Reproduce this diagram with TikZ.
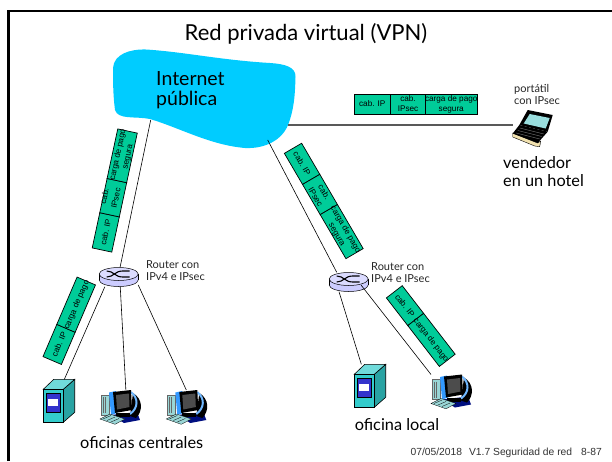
\documentclass[tikz,border=0pt]{standalone}
\usepackage{fontspec}
\setmainfont{Lato}
\newfontfamily\arialf{Liberation Sans}
\definecolor{pkt}{HTML}{00CC99}
\definecolor{cloudc}{HTML}{00CCFF}
\definecolor{srvc}{HTML}{33CCCC}
\definecolor{srvb}{HTML}{3333CC}
\definecolor{rtc}{HTML}{CCCCFF}
\definecolor{navy}{HTML}{000F80}
\definecolor{mblue}{HTML}{3399FF}
\definecolor{ltl}{HTML}{99D6D6}
\definecolor{lcd}{HTML}{99DDDD}
\definecolor{beige}{HTML}{F2E2B0}
\newcommand\oneline[2][-2.9pt]{\makebox[0pt]{\smash{\raisebox{#1}{#2}}}}
\newcommand\twolines[2]{\oneline[2.1pt]{#1}\oneline[-7.9pt]{#2}}
\tikzset{
  seg/.style={draw=black,fill=pkt,line width=.7pt,inner sep=0pt,outer sep=0pt,anchor=west,
    minimum height=20pt,font=\arialf\fontsize{8.2}{10}\selectfont},
  hostbox/.style={inner sep=0pt,outer sep=0pt,minimum width=#1},
  link/.style={draw=black,line width=.6pt},
  uplink/.style={draw=black!65,line width=1.1pt},
  comic/.style={inner sep=0pt,align=left,anchor=west},
  smalllab/.style={comic,font=\fontsize{11}{12}\selectfont,text=black!85},
  biglab/.style={comic,font=\fontsize{16.3}{18}\selectfont},
  routericon/.pic={
    \fill[rtc,draw=black,line width=.5pt] (0,3) ellipse[x radius=19.5,y radius=6.5];
    \fill[rtc] (-19.5,-3) rectangle (19.5,3);
    \draw[black,line width=.5pt] (-19.5,-3) -- (-19.5,3) (19.5,-3) -- (19.5,3);
    \fill[rtc!70!white,draw=black,line width=.5pt] (0,-3) ellipse[x radius=19.5,y radius=6.5];
    \draw[black,line width=1.1pt] (-12,-6) .. controls (-5,-6) and (-4,0) .. (4,0) -- (11,0);
    \draw[black,line width=1.1pt] (-12,0) .. controls (-5,0) and (-4,-6) .. (4,-6) -- (11,-6);
  },
  servericon/.pic={
    \fill[srvc!80!black,draw=black,line width=.6pt] (20,10) -- (31.4,0) -- (31.4,33) -- (20,43) -- cycle;
    \fill[srvc!70!white,draw=black,line width=.6pt] (0,10) -- (10.5,0) -- (31.4,0) -- (20,10) -- cycle;
    \fill[srvc,draw=black,line width=.6pt] (0,10) rectangle (20,43);
    \fill[srvb,draw=black,line width=.4pt] (2.7,14) rectangle (16.7,33);
    \fill[white] (4.7,19.7) rectangle (15,26.7);
  },
  pcicon/.pic={
    \fill[ltl,draw=black!60,line width=.3pt] (1,5) rectangle (9,25);
    \draw[black!60,line width=.3pt] (3,7) -- (3,23) (5,7) -- (5,23);
    \fill[navy] (11,25) -- (37,22) -- (40,30) -- (24,33) -- cycle;
    \fill[black] (33,3) .. controls (43,9) and (43,21) .. (36,28) -- (30,26) -- (33,3);
    \draw[mblue!70!white,line width=2pt] (31,2) .. controls (38.5,8) and (38.5,18) .. (30,24);
    \fill[mblue] (9,2.5) -- (16,1) -- (17,23) -- (11,25) -- cycle;
    \fill[black] (13,2) -- (31,0) -- (32,20) -- (15,23) -- cycle;
    \fill[black!70] (16,5) -- (29,3.5) -- (29.5,17) -- (17,19.5) -- cycle;
    \fill[black] (16,23) rectangle (30,27);
    \fill[ltl,draw=black,line width=.3pt] (0,29) -- (10,24) -- (25,29) -- (15,34.3) -- cycle;
    \draw[black,line width=.3pt] (3,29) -- (11,25.5) (7,30.5) -- (15,27) (11,32) -- (19,28.5);
  },
  laptopicon/.pic={
    \fill[black] (15,0) -- (40,5) -- (35,21.7) -- (6.6,15) -- cycle;
    \fill[lcd] (17,4) -- (37,8) -- (33,18.5) -- (11,13.5) -- cycle;
    \fill[beige,draw=black,line width=.4pt] (0,23) -- (25,33) -- (28,31) -- (27,36.7) -- (22,36) -- (0,27) -- cycle;
    \fill[black] (6.6,15) -- (35,21.7) -- (25,33) -- (0,23.5) -- cycle;
    \draw[black!55,line width=.4pt] (7,18) -- (31,24) (5,20.5) -- (29,26.5) (3.5,23) -- (27,29);
  },
}
\begin{document}
\begin{tikzpicture}[x=1pt,y=-1pt]
\useasboundingbox (0,0) rectangle (612,461);
\fill[white] (0,0) rectangle (612,461);
% frame
\draw[black,line width=2.7pt] (8.7,461) -- (8.7,11) -- (612,11);
% title
\node[font=\fontsize{22}{24}\selectfont] (title) at (306,34) {Red privada virtual (VPN)};
% cloud
\fill[cloudc] (113,68) .. controls (114,54) and (130,49) .. (146,49.5)
  .. controls (185,52) and (220,60) .. (270,63)
  .. controls (285,64) and (296,67) .. (295.5,77)
  .. controls (295,95) and (294,110) .. (288,125)
  .. controls (282,140) and (265,149) .. (245,148)
  .. controls (210,145) and (180,128) .. (150,119)
  .. controls (135,116) and (118,120) .. (115,110)
  .. controls (113,95) and (113,80) .. (113,68) -- cycle;
\coordinate (cloudL) at (150.7,120);
\coordinate (cloudR) at (267.7,140);
\coordinate (cloudE) at (288,125);
\node[comic,font=\fontsize{19.5}{20}\selectfont] (inet) at (156,90) {Internet\\pública};
% routers
\node[hostbox=39pt,minimum height=19.4pt] (rtA) at (118.7,277) {};
\node[hostbox=39pt,minimum height=19.4pt] (rtB) at (348.7,282) {};
\pic at (118.7,277) {routericon};
\pic at (348.7,282) {routericon};
\coordinate (rtBport) at (361,285);
% hosts
\node[hostbox=31.4pt,minimum height=43pt] (srvA) at (59,400.8) {};
\node[hostbox=31.4pt,minimum height=43pt] (srvB) at (370,385.8) {};
\pic at (43.3,379.3) {servericon};
\pic at (354.3,364.3) {servericon};
\node[hostbox=40pt,minimum height=34pt] (pcA) at (120,407) {};
\node[hostbox=40pt,minimum height=34pt] (pcB) at (186.3,407) {};
\node[hostbox=40pt,minimum height=34pt] (pcC) at (451,391.5) {};
\pic at (100,390) {pcicon};
\pic at (166.3,390) {pcicon};
\pic at (431,374.5) {pcicon};
\node[hostbox=40pt,minimum height=37pt] (lap) at (532.7,128.5) {};
% links
\draw[link] (cloudL) -- (rtA.82.4);
\draw[link] (cloudR) -- (rtB.141.7);
\draw[uplink] (cloudE) -- (cloudE -| lap.west);
\pic at (512.7,110) {laptopicon};
\draw[link] (rtA.215.3) -- (srvA.76.9);
\draw[link] (rtA.279.4) -- (pcA.71.5);
\draw[link] (rtA.338) -- (pcB.north);
\draw[link] (rtB.225.9) -- (srvB.112);
\draw[link] (rtBport) -- (pcC.north west);
% packets
\node[seg,minimum width=36.5pt] (a1) at (354,104) {\oneline{cab. IP}};
\node[seg,minimum width=35pt] (a2) at (a1.east) {\twolines{cab.}{IPsec}};
\node[seg,minimum width=51.5pt] (a3) at (a2.east) {\twolines{carga de pago}{segura}};
\node[seg,rotate=77.9,minimum width=36pt] (b1) at (102,250) {\oneline{cab. IP}};
\node[seg,rotate=77.9,minimum width=35pt] (b2) at (b1.east) {\oneline[6pt]{cab.}\oneline[-5.5pt]{IPsec}};
\node[seg,rotate=77.9,minimum width=50.7pt] (b3) at (b2.east) {\twolines{carga de pago}{segura}};
\node[seg,rotate=66.8,minimum width=35pt] (c1) at (52.2,360.5) {\oneline{cab. IP}};
\node[seg,rotate=66.8,minimum width=51.5pt] (c2) at (c1.east) {\oneline{carga de pago}};
\node[seg,rotate=-59.7,minimum width=36pt] (d1) at (293,148.3) {\oneline{cab. IP}};
\node[seg,rotate=-59.7,minimum width=35pt] (d2) at (d1.east) {\twolines{cab.}{IPsec}};
\node[seg,rotate=-59.7,minimum width=51pt] (d3) at (d2.east) {\twolines{carga de pago}{segura}};
\node[seg,rotate=-52.3,minimum width=35pt] (e1) at (394.3,291.8) {\oneline{cab. IP}};
\node[seg,rotate=-52.3,minimum width=51.6pt] (e2) at (e1.east) {\oneline{carga de pago}};
% labels
\node[smalllab] (lr1) at (146,270.5) {Router con\\IPv4 e IPsec};
\node[smalllab] (lr2) at (371,272.5) {Router con\\IPv4 e IPsec};
\node[smalllab] (lp) at (514,94.5) {portátil\\con IPsec};
\node[biglab] (lv) at (503,172) {vendedor\\en un hotel};
\node[biglab,anchor=west] (lo1) at (80,443) {oficinas centrales};
\node[biglab,anchor=west] (lo2) at (354.6,425) {oficina local};
\node[inner sep=0pt,anchor=east,font=\arialf\fontsize{10.3}{12}\selectfont,text=black!80] (foot) at (602,452.5) {07/05/2018\hspace{7pt}V1.7 Seguridad de red\hspace{9pt}8-87};
\end{tikzpicture}
\end{document}
